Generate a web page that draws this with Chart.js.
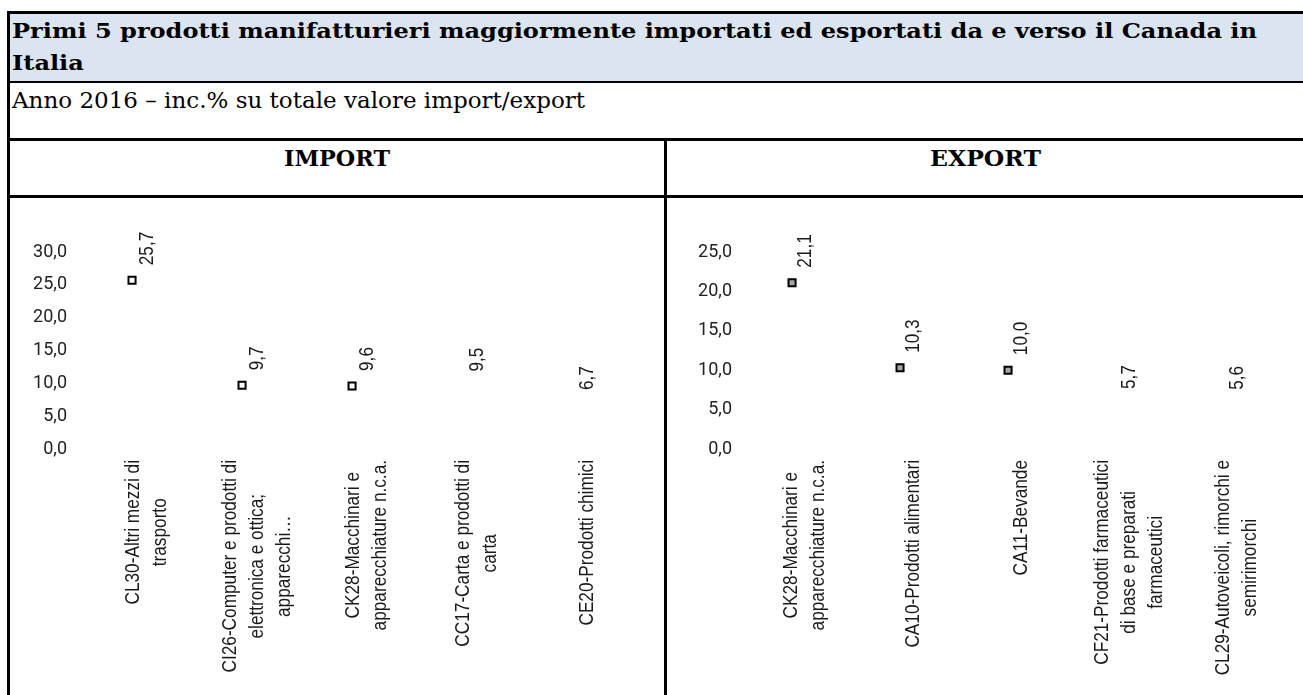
<!DOCTYPE html>
<html>
<head>
<meta charset="utf-8">
<script src="https://cdn.jsdelivr.net/npm/chart.js@4.4.0/dist/chart.umd.min.js"></script>
<style>
  body { margin: 0; background: #fff; width: 1303px; height: 695px; overflow: hidden; position: relative; font-family: 'DejaVu Serif', 'Liberation Serif', serif; }
  .ln { position: absolute; background: #000; }
  .txt { position: absolute; white-space: nowrap; color: #000; transform-origin: 0 0; line-height: 21px; font-size: 21px; }
  .b { font-weight: bold; }
  .panel { position: absolute; top: 197px; height: 498px; }
</style>
</head>
<body>
<div style="position:absolute;left:10px;top:14px;width:1293px;height:67px;background:#DBE5F1"></div>

<div class="ln" style="left:7px;top:11px;width:1296px;height:3px"></div>
<div class="ln" style="left:7px;top:81px;width:1296px;height:2px"></div>
<div class="ln" style="left:7px;top:138px;width:1296px;height:3px"></div>
<div class="ln" style="left:7px;top:195px;width:1296px;height:3px"></div>
<div class="ln" style="left:7px;top:11px;width:3px;height:684px"></div>
<div class="ln" style="left:664px;top:138px;width:3px;height:557px"></div>

<div id="title1" class="txt b" style="left:12px;top:20px">Primi 5 prodotti manifatturieri maggiormente importati ed esportati da e verso il Canada in</div>
<div id="title2" class="txt b" style="left:12px;top:52px">Italia</div>
<div id="sub" class="txt" style="left:12px;top:90px;font-size:22px;line-height:22px">Anno 2016 – inc.% su totale valore import/export</div>
<div id="hImp" class="txt b" style="left:283px;top:147px;font-size:22px;line-height:22px">IMPORT</div>
<div id="hExp" class="txt b" style="left:930px;top:147px;font-size:22px;line-height:22px">EXPORT</div>

<div class="panel" style="left:10px;width:654px"><canvas id="chart-import"></canvas></div>
<div class="panel" style="left:667px;width:636px"><canvas id="chart-export"></canvas></div>

<script>
// ---- data ----
var importLabels = [
  ['CL30-Altri mezzi di', 'trasporto'],
  ['CI26-Computer e prodotti di', 'elettronica e ottica;', 'apparecchi…'],
  ['CK28-Macchinari e', 'apparecchiature n.c.a.'],
  ['CC17-Carta e prodotti di', 'carta'],
  ['CE20-Prodotti chimici']
];
var importValues = [25.7, 9.7, 9.6, 9.5, 6.7];

var exportLabels = [
  ['CK28-Macchinari e', 'apparecchiature n.c.a.'],
  ['CA10-Prodotti alimentari'],
  ['CA11-Bevande'],
  ['CF21-Prodotti farmaceutici', 'di base e preparati', 'farmaceutici'],
  ['CL29-Autoveicoli, rimorchi e', 'semirimorchi']
];
var exportValues = [21.1, 10.3, 10.0, 5.7, 5.6];

var importAxisMax = 30;
var exportAxisMax = 25;
var markedCount = 3;   // only the first bars still show their marker

// ---- header text: stretch to the widths of the original ----
function fitText(id, width, centre) {
  var el = document.getElementById(id);
  var w = el.getBoundingClientRect().width;
  var k = width / w;
  el.style.transform = 'scaleX(' + k + ')';
  if (centre != null) el.style.left = (centre - width / 2) + 'px';
  return k;
}
var kTitle = fitText('title1', 1245);
document.getElementById('title2').style.transform = 'scaleX(' + kTitle + ')';
fitText('sub', 573);
fitText('hImp', 106, 337);
fitText('hExp', 111, 985);

// ---- charts ----
var NARROW = 0.82;
var LABEL_FONT = '21px "Liberation Sans", Arial, sans-serif';

function fmt(v) { return v.toFixed(1).replace('.', ','); }

var panelText = {
  id: 'panelText',
  afterDatasetsDraw: function(chart) {
    var ctx = chart.ctx;
    var area = chart.chartArea;
    var xs = chart.scales.x;
    var bars = chart.getDatasetMeta(0).data;
    var vals = chart.data.datasets[0].data;
    ctx.save();
    ctx.fillStyle = '#1a1a1a';
    ctx.font = LABEL_FONT;

    // value labels, rotated
    bars.forEach(function(bar, i) {
      ctx.save();
      ctx.translate(bar.x, bar.y - 15);
      ctx.rotate(-Math.PI / 2);
      ctx.scale(NARROW, 1);
      ctx.textAlign = 'left';
      ctx.textBaseline = 'middle';
      ctx.fillText(fmt(vals[i]), 0, 0);
      ctx.restore();
    });

    // category labels, rotated, lines centred on each other
    chart.data.labels.forEach(function(lines, i) {
      var cx = xs.getPixelForValue(i);
      var maxW = 0;
      lines.forEach(function(l) { maxW = Math.max(maxW, ctx.measureText(l).width * NARROW); });
      ctx.save();
      ctx.translate(cx, area.bottom + 11 + maxW / 2);
      ctx.rotate(-Math.PI / 2);
      ctx.scale(NARROW, 1);
      ctx.textAlign = 'center';
      ctx.textBaseline = 'middle';
      lines.forEach(function(l, j) {
        ctx.fillText(l, 0, (j - (lines.length - 1) / 2) * 27);
      });
      ctx.restore();
    });
    ctx.restore();
  }
};

function makePanel(canvasId, labels, values, axisMax, o) {
  var marks = values.map(function(v, i) { return i < markedCount ? { x: i, y: v } : null; })
                    .filter(function(p) { return p; });
  return new Chart(document.getElementById(canvasId).getContext('2d'), {
    type: 'bar',
    data: {
      labels: labels,
      datasets: [
        { data: values, backgroundColor: 'rgba(0,0,0,0)', borderWidth: 0, grouped: false },
        { type: 'line', data: marks, xAxisID: 'xm', showLine: false,
          pointStyle: 'rect', pointRadius: 5, pointHoverRadius: 5,
          borderColor: '#000', backgroundColor: o.markFill, borderWidth: 2 }
      ]
    },
    options: {
      responsive: true, maintainAspectRatio: false, animation: false,
      layout: { padding: { top: 55, right: o.padRight, left: 0, bottom: 0 } },
      plugins: { legend: { display: false }, tooltip: { enabled: false } },
      scales: {
        x: {
          grid: { display: false }, border: { display: false },
          ticks: { display: false },
          afterFit: function(s) { s.height = 246; }
        },
        xm: {
          type: 'linear', display: false, offset: false,
          min: -0.5 + o.markShift, max: labels.length - 0.5 + o.markShift
        },
        y: {
          min: 0, max: axisMax,
          grid: { display: false, drawTicks: false }, border: { display: false },
          ticks: {
            stepSize: 5, padding: o.tickPad, color: '#222',
            font: { family: 'Roboto', size: 18 },
            callback: function(v) { return fmt(v); }
          },
          afterFit: function(s) { s.width = o.yWidth; }
        }
      }
    },
    plugins: [panelText]
  });
}

makePanel('chart-import', importLabels, importValues, importAxisMax,
  { yWidth: 82, tickPad: 25, padRight: 22, markShift: 0.136, markFill: '#fff' });
makePanel('chart-export', exportLabels, exportValues, exportAxisMax,
  { yWidth: 84, tickPad: 19, padRight: 12, markShift: 0.12, markFill: '#a6a6a6' });
</script>
</body>
</html>
